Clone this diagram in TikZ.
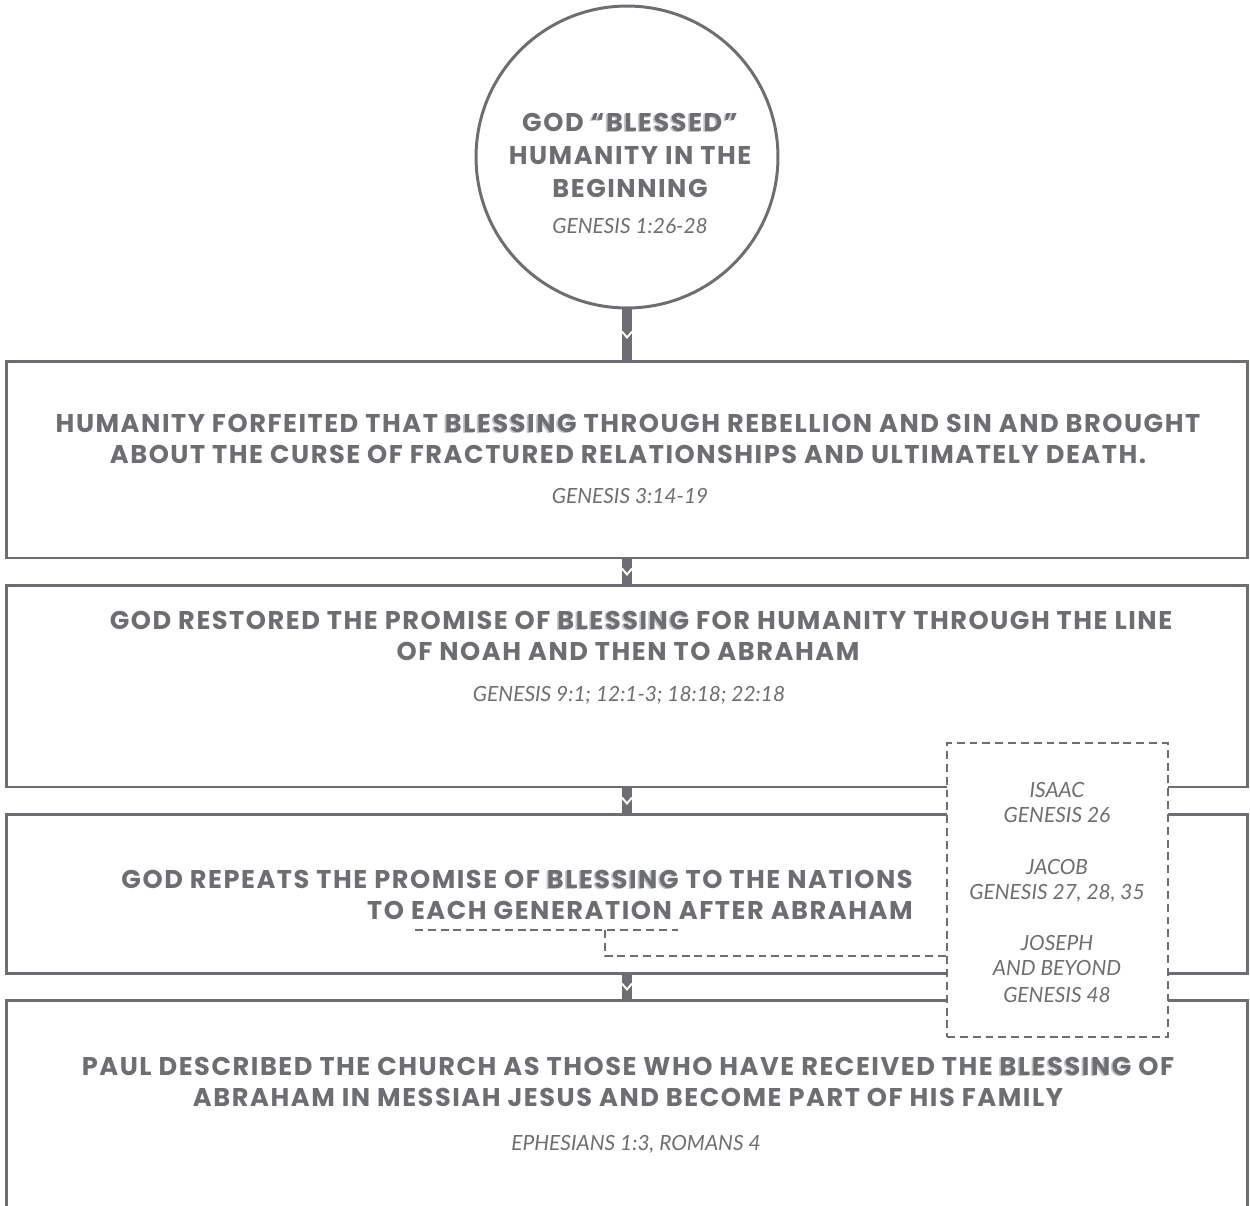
\documentclass[tikz,border=0pt]{standalone}
\usepackage{fontspec}
\usetikzlibrary{calc}
\newfontfamily\titlefont{Poppins}[LetterSpace=6]
\newfontfamily\reffont{Lato}
\definecolor{ink}{HTML}{6D6E71}
\definecolor{shade}{HTML}{C4C5C7}
\newcommand\bless[1]{\makebox[0pt][l]{\kern-1pt\raisebox{-1pt}{\textcolor{shade}{#1}}}#1}
\tikzset{
  frame/.style={draw=ink, line width=1.7pt, rectangle, inner sep=0pt},
  title/.style={font=\titlefont\bfseries\fontsize{14.6}{17}\selectfont, text=ink, inner sep=0pt, anchor=base},
  ref/.style={font=\reffont\itshape\fontsize{11.9}{14}\selectfont, text=ink, inner sep=0pt, anchor=base},
  stem/.style={draw=ink, line width=5.7pt},
  chev/.style={draw=white, line width=1.1pt},
  dashline/.style={draw=ink, line width=1.4pt, dash pattern=on 4.5pt off 2.8pt},
}
\begin{document}
\begin{tikzpicture}[x=0.02cm,y=-0.02cm]
\useasboundingbox (0,0) rectangle (1250,1205);
\clip (0,0) rectangle (1250,1205);
% shapes
\node[frame, circle, minimum size=6.04cm] (c0) at (627,157) {};
\node[frame, minimum width=24.84cm, minimum height=3.94cm] (b1) at (627,459.5) {};
\node[frame, minimum width=24.84cm, minimum height=4.04cm] (b2) at (627,686) {};
\node[frame, minimum width=24.84cm, minimum height=3.18cm] (b3) at (627,893.5) {};
\node[frame, minimum width=24.84cm, minimum height=4.6cm] (b4) at (627,1115) {};
% stems with chevrons
\draw[stem] (c0.south) -- (c0.south |- b1.north) coordinate[pos=0.5] (m0);
\draw[stem] (b1.south) -- (b2.north) coordinate[pos=0.5] (m1);
\draw[stem] (b2.south) -- (b3.north) coordinate[pos=0.5] (m2);
\draw[stem] (b3.south) -- (b4.north) coordinate[pos=0.5] (m3);
\foreach \m in {m0,m1,m2,m3}{
  \draw[chev] ($(\m)+(-5,-3)$) -- ($(\m)+(0,3)$) -- ($(\m)+(5,-3)$);
}
% dashed box
\node[draw=ink, fill=white, line width=1.4pt, dash pattern=on 4.5pt off 2.8pt, inner sep=0pt,
      minimum width=4.42cm, minimum height=5.88cm] (gens) at (1057.5,890) {};
% dashed connector
\coordinate (ulA) at (415,930);
\coordinate (ulB) at (678,930);
\coordinate (ulJ) at (605,930);
\coordinate (tie) at (605,956);
\draw[dashline] (ulA) -- (ulB);
\draw[dashline] (ulJ) -- (tie) -- (tie -| gens.west);
% circle text
\node[title] (c0a) at (630,131) {GOD \bless{“BLESSED”}};
\node[title] (c0b) at (630,164) {HUMANITY IN THE};
\node[title] (c0c) at (630,197) {BEGINNING};
\node[ref] (c0r) at (630,233) {GENESIS 1:26-28};
% box 1
\node[title] (t1a) at (628,432) {HUMANITY FORFEITED THAT \bless{BLESSING} THROUGH REBELLION AND SIN AND BROUGHT};
\node[title] (t1b) at (628,463) {ABOUT THE CURSE OF FRACTURED RELATIONSHIPS AND ULTIMATELY DEATH.};
\node[ref] (r1) at (630,503) {GENESIS 3:14-19};
% box 2
\node[title] (t2a) at (641,629) {GOD RESTORED THE PROMISE OF \bless{BLESSING} FOR HUMANITY THROUGH THE LINE};
\node[title] (t2b) at (628,660) {OF NOAH AND THEN TO ABRAHAM};
\node[ref] (r2) at (629,701) {GENESIS 9:1; 12:1-3; 18:18; 22:18};
% box 3
\node[title, anchor=base east] (t3a) at (913,888) {GOD REPEATS THE PROMISE OF \bless{BLESSING} TO THE NATIONS};
\node[title, anchor=base east] (t3b) at (913,919) {TO EACH GENERATION AFTER ABRAHAM};
% box 4
\node[title] (t4a) at (628,1075) {PAUL DESCRIBED THE CHURCH AS THOSE WHO HAVE RECEIVED THE \bless{BLESSING} OF};
\node[title] (t4b) at (628,1106) {ABRAHAM IN MESSIAH JESUS AND BECOME PART OF HIS FAMILY};
\node[ref] (r4) at (636,1150) {EPHESIANS 1:3, ROMANS 4};
% dashed box text
\node[ref] (g1) at (1057,797) {ISAAC};
\node[ref] (g2) at (1057,822) {GENESIS 26};
\node[ref] (g3) at (1057,874) {JACOB};
\node[ref] (g4) at (1057,899) {GENESIS 27, 28, 35};
\node[ref] (g5) at (1057,950) {JOSEPH};
\node[ref] (g6) at (1057,975) {AND BEYOND};
\node[ref] (g7) at (1057,1002) {GENESIS 48};
\end{tikzpicture}
\end{document}
